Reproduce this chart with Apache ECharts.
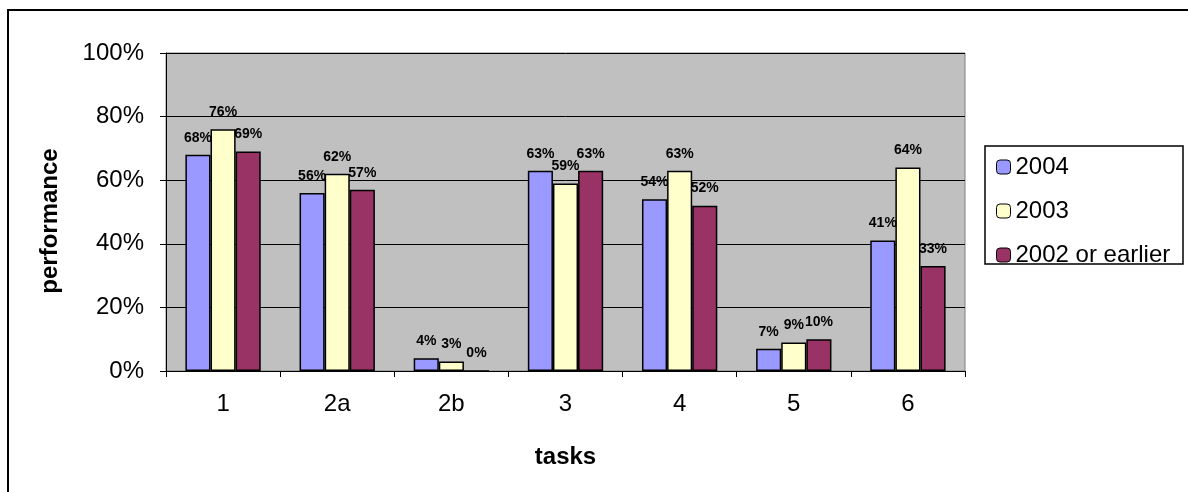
<!DOCTYPE html>
<html>
<head>
<meta charset="utf-8">
<script src="https://cdn.jsdelivr.net/npm/echarts@6/dist/echarts.min.js"></script>
<style>
  html, body { margin: 0; padding: 0; background: #fff; }
  #chart { width: 1188px; height: 492px; }
</style>
</head>
<body>
<div id="chart"></div>
<script>
// 数据
var tasks = ['1', '2a', '2b', '3', '4', '5', '6'];
var seriesNames = ['2004', '2003', '2002 or earlier'];
var perf2004 = [68, 56, 4, 63, 54, 7, 41];
var perf2003 = [76, 62, 3, 59, 63, 9, 64];
var perf2002 = [69, 57, 0, 63, 52, 10, 33];
var yTicks = [0, 20, 40, 60, 80, 100];

var colors = ['#9999FF', '#FFFFCC', '#993366'];
var font = 'Liberation Sans, Arial, sans-serif';

var chart = echarts.init(document.getElementById('chart'));

function makeSeries(name, data, color) {
    return {
        name: name,
        type: 'bar',
        data: data,
        barGap: '0%',
        barCategoryGap: '34%',
        itemStyle: { color: color, borderColor: '#000', borderWidth: 1.5 },
        label: {
            show: true,
            position: 'top',
            distance: 10,
            formatter: '{c}%',
            fontFamily: font,
            fontWeight: 'bold',
            fontSize: 14,
            color: '#000'
        }
    };
}

var option = {
    animation: false,
    backgroundColor: '#fff',
    textStyle: { fontFamily: font },
    graphic: [
        // 外框
        { type: 'rect', shape: { x: 8, y: 10, width: 1200, height: 500 },
          style: { fill: 'none', stroke: '#000', lineWidth: 2 }, z: 100 },
        // 图例框
        { type: 'rect', shape: { x: 985, y: 146, width: 198, height: 118 },
          style: { fill: '#fff', stroke: '#000', lineWidth: 1.5 }, z: 0 }
    ],
    legend: {
        orient: 'vertical',
        left: 991,
        top: 150,
        itemWidth: 14,
        itemHeight: 14,
        itemGap: 20,
        data: seriesNames,
        textStyle: { fontFamily: font, fontSize: 24, color: '#000', lineHeight: 24 },
        itemStyle: { borderColor: '#000', borderWidth: 1 }
    },
    grid: {
        left: 166,
        right: 223,
        top: 53,
        bottom: 121,
        show: true,
        backgroundColor: '#C0C0C0',
        borderColor: '#808080',
        borderWidth: 1
    },
    xAxis: {
        type: 'category',
        data: tasks,
        name: 'tasks',
        nameLocation: 'middle',
        nameGap: 74,
        nameTextStyle: { fontFamily: font, fontSize: 24, fontWeight: 'bold', color: '#000' },
        axisLine: { lineStyle: { color: '#000', width: 1 } },
        axisTick: { show: true, length: 6, lineStyle: { color: '#000' } },
        axisLabel: { fontFamily: font, fontSize: 24, color: '#000', margin: 21 }
    },
    yAxis: {
        type: 'value',
        min: yTicks[0],
        max: yTicks[yTicks.length - 1],
        interval: 20,
        name: 'performance',
        nameLocation: 'middle',
        nameGap: 104,
        nameTextStyle: { fontFamily: font, fontSize: 24, fontWeight: 'bold', color: '#000', padding: [0, 18, 0, 0] },
        axisLine: { show: true, lineStyle: { color: '#000', width: 1 } },
        axisTick: { show: true, length: 6, lineStyle: { color: '#000' } },
        axisLabel: { fontFamily: font, fontSize: 24, color: '#000', margin: 22, formatter: '{value}%' },
        splitLine: { show: true, lineStyle: { color: '#000', width: 1 } }
    },
    series: [
        makeSeries(seriesNames[0], perf2004, colors[0]),
        makeSeries(seriesNames[1], perf2003, colors[1]),
        makeSeries(seriesNames[2], perf2002, colors[2])
    ]
};

chart.setOption(option);
</script>
</body>
</html>
